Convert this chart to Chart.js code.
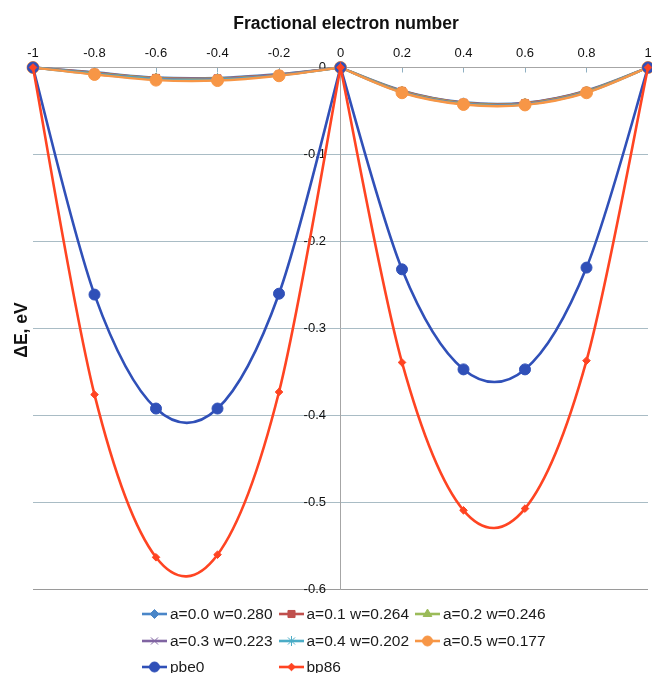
<!DOCTYPE html>
<html lang="en">
<head>
<meta charset="UTF-8">
<title>Fractional electron number</title>
<script src="https://cdn.jsdelivr.net/npm/chart.js@4"></script>
<style>
  body { margin: 0; background: #fff; }
  #wrap { position: relative; width: 652px; height: 673px; }
  #grafico { position: absolute; left: 0; top: 0; }
  #legenda {
    position: absolute; left: 142px; top: 601px;
    display: grid; grid-template-columns: 136.5px 136.5px 136.5px; grid-auto-rows: 26.5px;
    font: 15.5px "Liberation Sans", Arial, sans-serif; color: #1a1a1a;
  }
  .item { display: flex; align-items: center; white-space: nowrap; }
  .item canvas { margin-right: 3px; }
</style>
</head>
<body>
<div id="wrap">
  <canvas id="grafico" width="652" height="673"></canvas>
  <div id="legenda"></div>
</div>
<script>
// eixo x: numero fracionario de eletrons
var valoresX = [-1, -0.8, -0.6, -0.4, -0.2, 0, 0.2, 0.4, 0.6, 0.8, 1];

// Delta E (eV) por serie
var a00 = [0, -0.0055, -0.0115, -0.012, -0.0075, 0, -0.0265, -0.040, -0.0405, -0.0265, 0];
var a01 = [0, -0.006, -0.012, -0.0125, -0.008, 0, -0.027, -0.0405, -0.041, -0.027, 0];
var a02 = [0, -0.0065, -0.0125, -0.013, -0.0085, 0, -0.0275, -0.041, -0.0415, -0.0275, 0];
var a03 = [0, -0.007, -0.013, -0.0135, -0.0085, 0, -0.028, -0.0415, -0.042, -0.028, 0];
var a04 = [0, -0.0075, -0.0135, -0.014, -0.009, 0, -0.0285, -0.042, -0.0425, -0.0285, 0];
var a05 = [0, -0.008, -0.0145, -0.015, -0.0095, 0, -0.029, -0.0425, -0.043, -0.029, 0];
var pbe0 = [0, -0.261, -0.392, -0.392, -0.260, 0, -0.232, -0.347, -0.347, -0.230, 0];
var bp86 = [0, -0.376, -0.563, -0.560, -0.373, 0, -0.339, -0.509, -0.507, -0.337, 0];

var nomes = ["a=0.0 w=0.280", "a=0.1 w=0.264", "a=0.2 w=0.246", "a=0.3 w=0.223",
             "a=0.4 w=0.202", "a=0.5 w=0.177", "pbe0", "bp86"];
var series = [a00, a01, a02, a03, a04, a05, pbe0, bp86];
var cores = ["#4a86c8", "#c0504d", "#9bbb59", "#8064a2", "#4bacc6", "#f79646", "#3050b8", "#ff4422"];
var marcadores = ["rectRot", "rect", "triangle", "crossRot", "star", "circle", "circle", "rectRot"];
var raios = [4.5, 5, 5, 5, 5, 6, 5.5, 3.8];

var fonte = '"Liberation Sans", Arial, sans-serif';
Chart.defaults.font.family = fonte;
Chart.defaults.color = '#111';

// suavizacao tipo Excel (Catmull-Rom), com quebra no x = 0
const suavizar = {
    id: 'suavizar',
    beforeDatasetDraw(chart, args) {
        const pts = args.meta.data;
        const linha = args.meta.dataset;
        if (!linha) return;
        const ultimo = pts.length - 1;
        for (let i = 0; i <= ultimo; i++) {
            const p = pts[i];
            const ant = i > 0 ? pts[i - 1] : p;
            const prox = i < ultimo ? pts[i + 1] : p;
            if (i === 0 || i === ultimo || valoresX[i] === 0) {
                p.cp1x = p.x - (p.x - ant.x) / 6;
                p.cp1y = p.y - (p.y - ant.y) / 6;
                p.cp2x = p.x + (prox.x - p.x) / 6;
                p.cp2y = p.y + (prox.y - p.y) / 6;
            } else {
                const tx = (prox.x - ant.x) / 6;
                const ty = (prox.y - ant.y) / 6;
                p.cp1x = p.x - tx; p.cp1y = p.y - ty;
                p.cp2x = p.x + tx; p.cp2y = p.y + ty;
            }
        }
        linha._pointsUpdated = true;
    }
};

// titulos dos eixos
const titulos = {
    id: 'titulos',
    afterDraw(chart) {
        const ctx = chart.ctx;
        ctx.save();
        ctx.fillStyle = '#111';
        ctx.font = 'bold 17.5px ' + fonte;
        ctx.textAlign = 'center';
        ctx.textBaseline = 'alphabetic';
        ctx.fillText('Fractional electron number', 346, 29);
        ctx.translate(22, 330);
        ctx.rotate(-Math.PI / 2);
        ctx.textBaseline = 'middle';
        ctx.fillText('ΔE, eV', 0, 0);
        ctx.restore();
    }
};

var conjuntos = [];
for (var s = 0; s < series.length; s++) {
    var pontos = [];
    for (var k = 0; k < valoresX.length; k++) {
        pontos.push({ x: valoresX[k], y: series[s][k] });
    }
    conjuntos.push({
        label: nomes[s],
        data: pontos,
        borderColor: cores[s],
        backgroundColor: cores[s],
        borderWidth: s >= 6 ? 2.6 : 2.4,
        pointStyle: marcadores[s],
        pointRadius: raios[s],
        pointBorderWidth: 1,
        pointBorderColor: cores[s],
        pointBackgroundColor: cores[s],
        tension: 0.3,
        clip: false,
        order: series.length - s
    });
}

new Chart(document.getElementById('grafico'), {
    type: 'line',
    data: { datasets: conjuntos },
    options: {
        responsive: false,
        animation: false,
        layout: { autoPadding: false, padding: { left: 33, right: 4, top: 0, bottom: 83.5 } },
        plugins: { legend: { display: false }, tooltip: { enabled: false } },
        scales: {
            x: {
                type: 'linear',
                position: 'top',
                min: -1, max: 1,
                ticks: {
                    stepSize: 0.2,
                    padding: 11,
                    font: { size: 13 },
                    callback: function (v) { return String(Math.round(v * 10) / 10); }
                },
                grid: { drawOnChartArea: false, tickLength: -5, tickColor: '#8fb0c2' },
                border: { color: '#a6a6a6', width: 1 },
                afterFit: function (escala) {
                    escala.height = 67.5;
                    escala.paddingLeft = 0;
                    escala.paddingRight = 0;
                }
            },
            y: {
                type: 'linear',
                position: 'center',
                min: -0.6, max: 0,
                ticks: {
                    stepSize: 0.1,
                    padding: 14.5,
                    font: { size: 13 },
                    callback: function (v) { return String(Math.round(v * 10) / 10); }
                },
                grid: {
                    drawTicks: false,
                    color: function (c) { return c.tick && Math.abs(c.tick.value + 0.6) < 1e-6 ? '#9a9a9a' : '#a9bcc5'; }
                },
                border: { color: '#a6a6a6', width: 1 },
                afterFit: function (escala) { escala.width = 0; }
            }
        }
    },
    plugins: [suavizar, titulos]
});

// legenda em HTML: linha + marcador
var legenda = document.getElementById('legenda');
for (var j = 0; j < nomes.length; j++) {
    var item = document.createElement('div');
    item.className = 'item';
    var c = document.createElement('canvas');
    c.width = 25; c.height = 16;
    var g = c.getContext('2d');
    g.strokeStyle = cores[j];
    g.lineWidth = 2.6;
    g.beginPath(); g.moveTo(0, 8); g.lineTo(25, 8); g.stroke();
    g.fillStyle = cores[j];
    g.lineWidth = 1;
    Chart.helpers.drawPoint(g, { pointStyle: marcadores[j], radius: Math.min(raios[j], 5), borderWidth: 1 }, 12.5, 8);
    item.appendChild(c);
    var t = document.createElement('span');
    t.textContent = nomes[j];
    item.appendChild(t);
    legenda.appendChild(item);
}
</script>
</body>
</html>
